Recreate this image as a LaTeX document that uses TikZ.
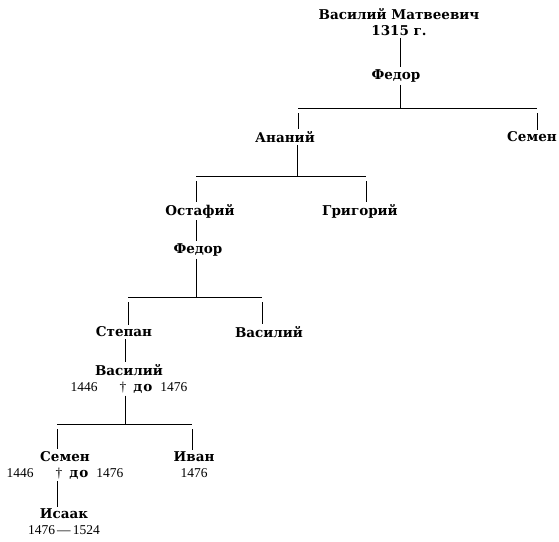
\documentclass[tikz,border=0pt]{standalone}
\usepackage{fontspec}
\setmainfont{Liberation Serif}
\newfontfamily\namefont{DejaVu Serif}
\newcommand\yr[1]{{\normalfont\fontsize{13.5}{16}\selectfont #1}}
\newcommand\died{\hspace{22pt}\yr{†}\hspace{7pt}{\addfontfeature{LetterSpace=8}до}\hspace{8pt}}

\begin{document}
\begin{tikzpicture}[x=1pt,y=-1pt,
  person/.style={font={\namefont\bfseries\fontsize{13.5}{16}\selectfont}, align=center, inner sep=2pt},
  line/.style={line width=1pt}]
\useasboundingbox (0,0) rectangle (559,541);

\node[person] (vm) at (399,22) {Василий Матвеевич\\1315 г.};
\node[person] (f1) at (396,76) {Федор};
\node[person] (an) at (285,137) {Ананий};
\node[person] (se1) at (532,137) {Семен};
\node[person] (os) at (200,211) {Остафий};
\node[person] (gr) at (360,211) {Григорий};
\node[person] (f2) at (198,250) {Федор};
\node[person] (st) at (124,332) {Степан};
\node[person] (va1) at (269,332) {Василий};
\node[person] (va2) at (129,379) {Василий\\\yr{1446}\died\yr{1476}};
\node[person] (se2) at (65,465) {Семен\\\yr{1446}\died\yr{1476}};
\node[person] (iv) at (194,465) {Иван\\\yr{1476}};
\node[person] (is) at (64,522) {Исаак\\\yr{1476\,—\,1524}};

\coordinate (j1) at (400,108);
\coordinate (b1l) at (298,108);
\coordinate (b1r) at (537,108);
\coordinate (j2) at (297,176);
\coordinate (b2l) at (196,176);
\coordinate (b2r) at (366,176);
\coordinate (j3) at (196,297);
\coordinate (b3l) at (128,297);
\coordinate (b3r) at (262,297);
\coordinate (j4) at (125,424);
\coordinate (b4l) at (57,424);
\coordinate (b4r) at (192,424);

% Vasiliy Matveevich -- Fedor
\draw[line] (vm.south -| j1) -- (f1.north -| j1);
\draw[line] (f1.south -| j1) -- (j1);
\draw[line] (b1l) -- (b1r);
\draw[line] ([yshift=-5pt]b1l) -- (an.north -| b1l);
\draw[line] ([yshift=-5pt]b1r) -- (se1.north -| b1r);

% Ananiy
\draw[line] (an.south -| j2) -- (j2);
\draw[line] (b2l) -- (b2r);
\draw[line] ([yshift=-5pt]b2l) -- (os.north -| b2l);
\draw[line] ([yshift=-5pt]b2r) -- (gr.north -| b2r);
\draw[line] (os.south -| j3) -- (f2.north -| j3);

% Fedor
\draw[line] (f2.south -| j3) -- (j3);
\draw[line] (b3l) -- (b3r);
\draw[line] ([yshift=-5pt]b3l) -- (st.north -| b3l);
\draw[line] ([yshift=-5pt]b3r) -- (va1.north -| b3r);
\draw[line] (st.south -| j4) -- (va2.north -| j4);

% Vasiliy
\draw[line] (va2.south -| j4) -- (j4);
\draw[line] (b4l) -- (b4r);
\draw[line] ([yshift=-5pt]b4l) -- (se2.north -| b4l);
\draw[line] ([yshift=-5pt]b4r) -- (iv.north -| b4r);
\draw[line] (se2.south -| b4l) -- (is.north -| b4l);
\end{tikzpicture}
\end{document}
